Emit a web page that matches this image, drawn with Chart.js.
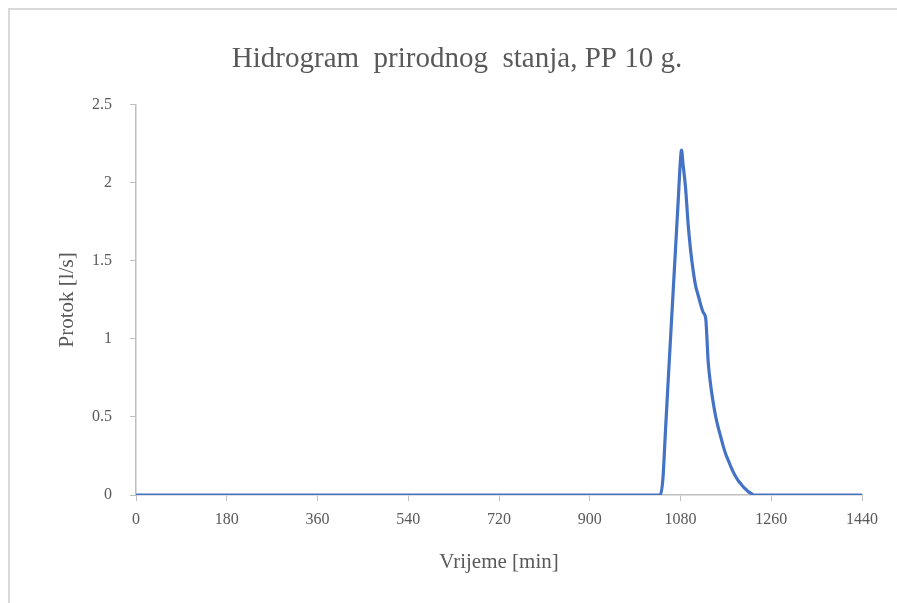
<!DOCTYPE html>
<html>
<head>
<meta charset="utf-8">
<script src="https://cdn.jsdelivr.net/npm/chart.js@4/dist/chart.umd.min.js"></script>
<style>
  html, body { margin: 0; padding: 0; background: #fff; }
  #wrap { position: relative; width: 897px; height: 603px; overflow: hidden; }
  #frame { position: absolute; left: 8px; top: 8px; right: -2px; bottom: -2px; border-left: 2px solid #d9d9d9; border-top: 2px solid #d9d9d9; }
  canvas { position: absolute; left: 0; top: 0; }
</style>
</head>
<body>
<div id="wrap">
  <div id="frame"></div>
  <canvas id="chart" width="897" height="603"></canvas>
</div>
<script>
'use strict';
const times = [0, 1040, 1045, 1050, 1055, 1060, 1065, 1070, 1075, 1080, 1082,
  1085, 1090, 1095, 1100, 1105, 1110, 1115, 1120, 1125, 1130,
  1135, 1140, 1145, 1150, 1155, 1160, 1165, 1170, 1175, 1180,
  1185, 1190, 1195, 1200, 1205, 1210, 1215, 1220, 1225, 1440];
const flows = [0, 0, 0.10, 0.40, 0.70, 0.99, 1.28, 1.57, 1.86, 2.15, 2.21,
  2.12, 1.97, 1.74, 1.57, 1.44, 1.34, 1.28, 1.22, 1.17, 1.13,
  0.85, 0.70, 0.59, 0.50, 0.43, 0.37, 0.31, 0.26, 0.22, 0.18,
  0.145, 0.115, 0.09, 0.07, 0.05, 0.035, 0.02, 0.01, 0, 0];
const xTicks = [0, 180, 360, 540, 720, 900, 1080, 1260, 1440];
const yTicks = [0, 0.5, 1, 1.5, 2, 2.5];

const grey = '#595959';
const axisGrey = '#bfbfbf';
const serif = "'Liberation Serif', 'Times New Roman', serif";

const ctx = document.getElementById('chart').getContext('2d');
new Chart(ctx, {
  type: 'line',
  data: {
    datasets: [{
      label: 'Protok',
      data: times.map((t, i) => ({x: t, y: flows[i]})),
      borderColor: '#4472C4',
      borderWidth: 3.2,
      pointRadius: 0,
      cubicInterpolationMode: 'monotone',
      fill: false
    }]
  },
  options: {
    responsive: false,
    animation: false,
    // left padding keeps the title centred where the original has it
    layout: {padding: {left: 52, right: 35, top: 0, bottom: 0}},
    plugins: {
      legend: {display: false},
      tooltip: {enabled: false},
      title: {
        display: true,
        text: 'Hidrogram  prirodnog  stanja, PP 10 g.',
        color: grey,
        font: {family: serif, size: 29, weight: 'normal'},
        padding: {top: 42, bottom: 28}
      }
    },
    scales: {
      x: {
        type: 'linear',
        min: 0, max: 1440,
        afterBuildTicks: axis => { axis.ticks = xTicks.map(v => ({value: v})); },
        afterFit: axis => { axis.height = 108; },
        ticks: {color: grey, font: {family: serif, size: 16}, maxRotation: 0, padding: 9, callback: v => String(v)},
        grid: {display: true, drawOnChartArea: false, drawTicks: true, tickLength: 6, color: axisGrey},
        border: {display: true, color: axisGrey, width: 1.5},
        title: {display: true, text: 'Vrijeme [min]', color: grey, font: {family: serif, size: 21}, padding: {top: 0, bottom: 28}}
      },
      y: {
        min: 0, max: 2.5,
        afterBuildTicks: axis => { axis.ticks = yTicks.map(v => ({value: v})); },
        afterFit: axis => { axis.width = 84; },
        ticks: {color: grey, font: {family: serif, size: 16}, padding: 18, callback: v => String(v)},
        grid: {display: true, drawOnChartArea: false, drawTicks: true, tickLength: 6, color: axisGrey},
        border: {display: true, color: axisGrey, width: 1.5},
        title: {display: true, text: 'Protok [l/s]', color: grey, font: {family: serif, size: 21}, padding: {top: 3, bottom: 0}}
      }
    }
  }
});
</script>
</body>
</html>
